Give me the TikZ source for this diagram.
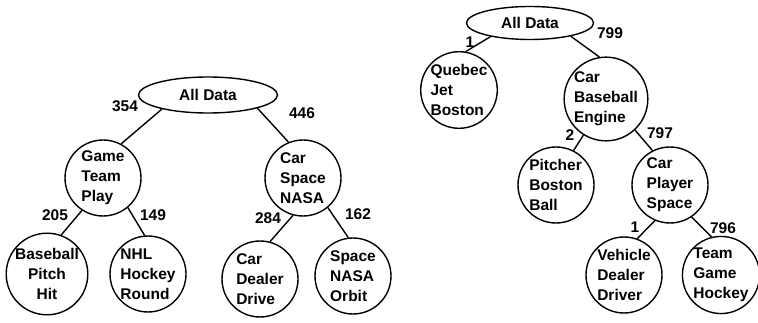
\documentclass[tikz,border=0pt]{standalone}
\usepackage{fontspec}
\setmainfont{Liberation Sans}
\usetikzlibrary{shapes.geometric}
\begin{document}
\begin{tikzpicture}[x=1pt,y=-1pt,
  font=\bfseries\fontsize{15.5}{20}\selectfont,
  line width=1.4pt,
  topic/.style={circle,draw,minimum size=76pt,inner sep=0pt,align=left},
  rootdata/.style={ellipse,draw,inner sep=0pt},
  count/.style={inner sep=0pt}]
  \useasboundingbox (0,0) rectangle (758,323);
  % left tree
  \node[rootdata,minimum width=139pt,minimum height=36pt] (all) at (208,95) {All Data};
  \node[topic] (game) at (103,178) {Game\\Team\\Play};
  \node[topic] (csn) at (303,178) {Car\\Space\\NASA};
  \node[topic,align=center] (base) at (47,274) {Baseball\\Pitch\\Hit};
  \node[topic] (nhl) at (148,274) {NHL\\Hockey\\Round};
  \node[topic] (cdd) at (260,279) {Car\\Dealer\\Drive};
  \node[topic] (sno) at (353,276) {Space\\NASA\\Orbit};
  \draw (all.197) -- (game.62); \draw (all.345) -- (csn.112);
  \draw (game.237) -- (base.70); \draw (game.310) -- (nhl.95);
  \draw (csn.255) -- (cdd.75); \draw (csn.310) -- (sno.97);
  \node[count] (n354) at (125,106) {354};
  \node[count] (n446) at (302,113) {446};
  \node[count] (n205) at (55,215) {205};
  \node[count] (n149) at (153,215) {149};
  \node[count] (n284) at (268,218) {284};
  \node[count] (n162) at (358,214) {162};
  % right tree
  \node[rootdata,minimum width=127pt,minimum height=33pt] (allr) at (530,23) {All Data};
  \node[topic] (qjb) at (459,90) {Quebec\\Jet\\Boston};
  \node[topic] (cbe) at (606,99) {Car\\Baseball\\Engine};
  \node[topic] (pbb) at (556,185) {Pitcher\\Boston\\Ball};
  \node[topic] (cps) at (670,185) {Car\\Player\\Space};
  \node[topic] (vdd) at (624,275) {Vehicle\\Dealer\\Driver};
  \node[topic] (tgh) at (721,275) {Team\\Game\\Hockey};
  \draw (allr.199) -- (qjb.80); \draw (allr.342) -- (cbe.99);
  \draw (cbe.238) -- (pbb.63); \draw (cbe.313) -- (cps.117);
  \draw (cps.247) -- (vdd.70); \draw (cps.304) -- (tgh.104);
  \node[count] (r1) at (470,42) {1};
  \node[count] (r799) at (610,33) {799};
  \node[count] (r2) at (570,135) {2};
  \node[count] (r797) at (660,133) {797};
  \node[count] (r1b) at (635,227) {1};
  \node[count] (r796) at (723,228) {796};
\end{tikzpicture}
\end{document}
